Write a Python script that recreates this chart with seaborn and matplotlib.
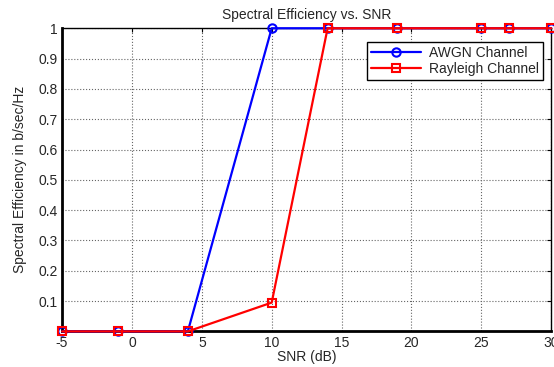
import numpy as np
import pandas as pd
import matplotlib
matplotlib.use('Agg')
import matplotlib.pyplot as plt
import seaborn as sns

snr_db = [-5, -1, 4, 10, 14, 19, 25, 27, 30]
awgn = [0, 0, 0, 1, 1, 1, 1, 1, 1]
rayleigh = [0, 0, 0, 0.095, 1, 1, 1, 1, 1]
x_ticks = [-5, 0, 5, 10, 15, 20, 25, 30]
y_ticks = [0.1, 0.2, 0.3, 0.4, 0.5, 0.6, 0.7, 0.8, 0.9, 1]

sns.set_style('white')
plt.rcParams['font.family'] = ['Liberation Sans', 'DejaVu Sans']
plt.rcParams['axes.unicode_minus'] = False

fig = plt.figure(figsize=(5.54, 3.67), dpi=100)
ax = fig.add_axes([0.112, 0.097, 0.883, 0.826])

sns.lineplot(x=snr_db, y=awgn, color='#0000ff', marker='o', linewidth=1.6,
             markersize=6, label='AWGN Channel', ax=ax)
sns.lineplot(x=snr_db, y=rayleigh, color='#ff0000', marker='s', linewidth=1.6,
             markersize=6, label='Rayleigh Channel', ax=ax)
for ln in ax.lines:
    ln.set_markerfacecolor('none')
    ln.set_markeredgecolor(ln.get_color())
    ln.set_markeredgewidth(1.5)
    ln.set_clip_on(False)
    ln.set_zorder(5)

ax.set_xlim(-5, 30)
ax.set_ylim(0, 1)
ax.set_xticks(x_ticks)
ax.set_yticks(y_ticks)
ax.set_yticklabels(['0.1', '0.2', '0.3', '0.4', '0.5', '0.6', '0.7', '0.8', '0.9', '1'])
ax.tick_params(direction='in', length=3, labelsize=10, color='black', top=True, right=True, pad=3)
ax.grid(True, linestyle=':', color='#666666', linewidth=0.8)
for side in ['left', 'bottom']:
    ax.spines[side].set_linewidth(2)
for side in ['top', 'right']:
    ax.spines[side].set_linewidth(1)
for s in ax.spines.values():
    s.set_color('black')

ax.set_title('Spectral Efficiency vs. SNR', fontsize=10, pad=7)
ax.set_xlabel('SNR (dB)', fontsize=10, labelpad=0)
ax.set_ylabel('Spectral Efficiency in b/sec/Hz', fontsize=10, labelpad=8)

leg = ax.legend(loc='upper right', bbox_to_anchor=(0.984, 0.955), fontsize=10,
                fancybox=False, framealpha=1, edgecolor='black', handlelength=3.6,
                borderpad=0.3, labelspacing=0.15, handletextpad=0.6, borderaxespad=0)
leg.get_frame().set_linewidth(1)

fig.savefig('out.png', dpi=100)
